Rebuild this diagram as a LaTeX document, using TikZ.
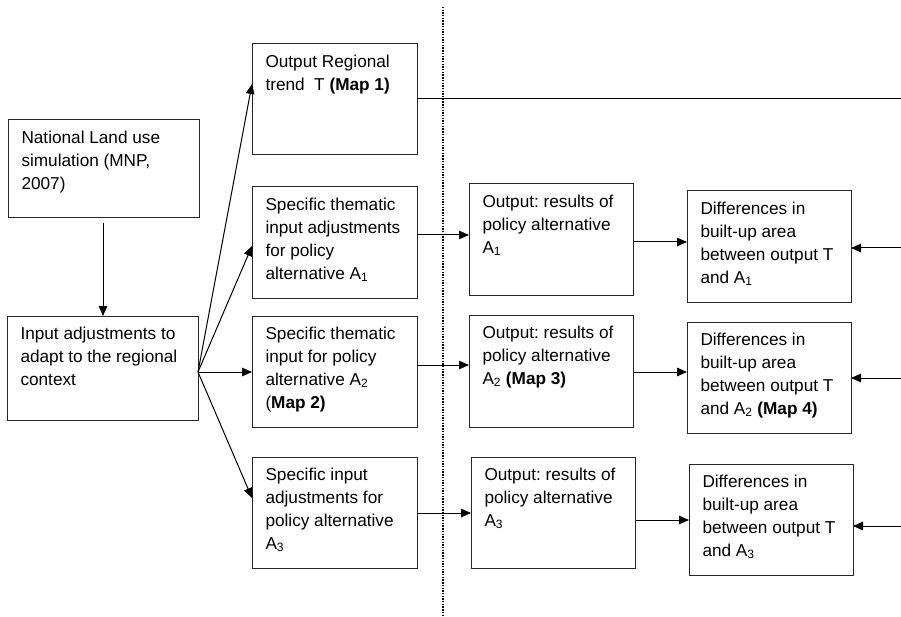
\documentclass[tikz,border=0pt]{standalone}
\usepackage{fontspec}
\setmainfont{Liberation Sans}
\usetikzlibrary{arrows.meta}
\frenchspacing
\newcommand{\bxt}[3]{\parbox[t][#2pt][t]{#1pt}{\vspace*{7.3pt}\hspace*{13.5pt}\begin{tabular}[t]{@{}l@{}}#3\end{tabular}}}
\newcommand{\sub}[1]{\textsubscript{#1}}
\begin{document}
\begin{tikzpicture}[x=1pt,y=1pt,
  box/.style={draw=black!85, line width=1pt, inner sep=0pt, outer sep=0pt, anchor=north west,
    font=\fontsize{17.2}{23}\selectfont},
  arr/.style={-{Triangle[length=10pt,width=8.5pt]}, line width=1pt},
  plain/.style={line width=1pt},
  dots/.style={line width=1.8pt, dash pattern=on 1.4pt off 1.3pt}]
\useasboundingbox (0,0) rectangle (901,-617);
% left column
\node[box] (N) at (8,-120) {\bxt{191}{98}{National Land use\\simulation (MNP,\\2007)}};
\node[box] (I) at (7,-316) {\bxt{191}{104}{Input adjustments to\\adapt to the regional\\context}};
% second column
\node[box] (T) at (252,-44) {\bxt{165}{111}{Output Regional\\trend\ \ T \textbf{(Map 1)}}};
\node[box] (A1) at (252,-187) {\bxt{165}{111}{Specific thematic\\input adjustments\\for policy\\alternative A\sub{1}}};
\node[box] (A2) at (252,-316) {\bxt{165}{111}{Specific thematic\\input for policy\\alternative A\sub{2}\\(\textbf{Map 2)}}};
\node[box] (A3) at (252,-457) {\bxt{165}{111}{Specific input\\adjustments for\\policy alternative\\A\sub{3}}};
% third column
\node[box] (O1) at (469,-184) {\bxt{164}{111}{Output: results of\\policy alternative\\A\sub{1}}};
\node[box] (O2) at (469,-315) {\bxt{164}{112}{Output: results of\\policy alternative\\A\sub{2} \textbf{(Map 3)}}};
\node[box] (O3) at (471,-457) {\bxt{164}{111}{Output: results of\\policy alternative\\A\sub{3}}};
% fourth column
\node[box] (D1) at (687,-191) {\bxt{164}{111}{Differences in\\built-up area\\between output T\\and A\sub{1}}};
\node[box] (D2) at (687,-322) {\bxt{164}{111}{Differences in\\built-up area\\between output T\\and A\sub{2} \textbf{(Map 4)}}};
\node[box] (D3) at (689,-464) {\bxt{164}{111}{Differences in\\built-up area\\between output T\\and A\sub{3}}};
% dotted divider
\coordinate (DT) at (443,-7);
\coordinate (DB) at (443,-617);
\draw[dots] (DT) -- (DB);
% vertical arrow
\draw[arr] ([yshift=-5pt]N.south -| 103,0) -- (I.north -| 103,0);
% fan
\coordinate (F) at ([yshift=-56pt]I.north east);
\draw[arr] (F) -- ([yshift=-40pt]T.north west);
\draw[arr] (F) -- ([yshift=-59pt]A1.north west);
\draw[arr] (F) -- ([yshift=-56pt]A2.north west);
\draw[arr] (F) -- ([yshift=-41pt]A3.north west);
% trend line to the right edge
\coordinate (TR) at (901,-99);
\draw[plain] ([yshift=-55pt]T.north east) -- (TR);
% rows
\draw[arr] ([yshift=-48pt]A1.north east) -- ([yshift=-51pt]O1.north west);
\draw[arr] ([yshift=-49pt]A2.north east) -- ([yshift=-50pt]O2.north west);
\draw[arr] ([yshift=-56pt]A3.north east) -- ([yshift=-56pt]O3.north west);
\draw[arr] ([xshift=1pt,yshift=-58pt]O1.north east) -- ([yshift=-51pt]D1.north west);
\draw[arr] ([xshift=1pt,yshift=-57pt]O2.north east) -- ([yshift=-50pt]D2.north west);
\draw[arr] ([xshift=1pt,yshift=-63pt]O3.north east) -- ([yshift=-56pt]D3.north west);
% arrows from the right edge
\coordinate (R1) at (901,-248);
\coordinate (R2) at (901,-378);
\coordinate (R3) at (901,-526);
\draw[arr] (R1) -- ([yshift=-57pt]D1.north east);
\draw[arr] (R2) -- ([yshift=-56pt]D2.north east);
\draw[arr] (R3) -- ([yshift=-62pt]D3.north east);
\end{tikzpicture}
\end{document}
